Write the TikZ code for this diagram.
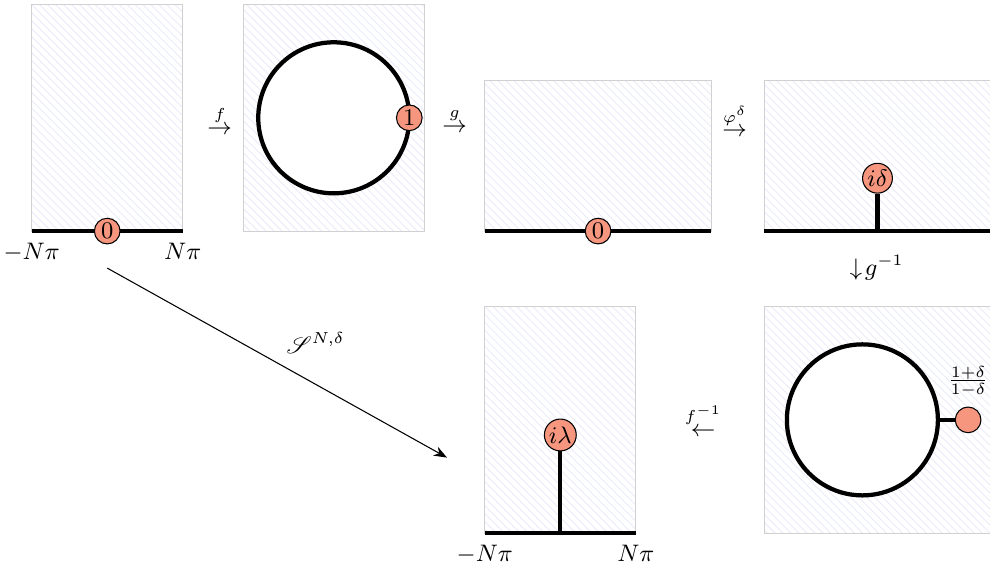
\documentclass[tikz,border=0pt]{standalone}
\usepackage{amsmath}
\usepackage{mathrsfs}
\usepackage{tikz}
\usetikzlibrary{patterns,arrows.meta,positioning}
\definecolor{DotSalmon}{HTML}{F7967E}
\definecolor{HatchLilac}{HTML}{ECEDF8}
\definecolor{FrameGray}{HTML}{D0D0D0}
\tikzset{
  panel/.style={draw=FrameGray,pattern=north west lines,pattern color=HatchLilac},
  cut/.style={line width=1.6pt},
  disk/.style={cut,fill=white},
  pt/.style={circle,draw,fill=DotSalmon,inner sep=0.5pt,minimum size=0.34cm},
  arr/.style={-{Stealth[length=5pt]}}
}

\begin{document}
\begin{tikzpicture}[every node/.style={font=\small}]
  \useasboundingbox (-0.42,-4.49) rectangle (12.69,3.06);
  % strip
  \draw[panel] (0,0) rectangle (2,3);
  \draw[cut] (0,0) -- (2,0);
  \node[pt] (z1) at (1,0) {$0$};
  \node[below=1pt] (l1) at (0,0) {$-N\pi$};
  \node[below=1pt] (r1) at (2,0) {$N\pi$};
  \node (mf) at (2.49,1.47) {$\stackrel{f}{\to}$};

  % disk
  \draw[panel] (2.8,0) rectangle (5.2,3);
  \draw[disk] (4,1.5) circle (1);
  \node[pt] (one) at (5,1.5) {$1$};
  \node (mg) at (5.6,1.47) {$\stackrel{g}{\to}$};

  % half plane
  \draw[panel] (6,0) rectangle (9,2);
  \draw[cut] (6,0) -- (9,0);
  \node[pt] (z2) at (7.5,0) {$0$};
  \node (mphi) at (9.31,1.47) {$\stackrel{\varphi^\delta}{\to}$};

  % slit half plane
  \draw[panel] (9.7,0) rectangle (12.7,2);
  \draw[cut] (9.7,0) -- (12.7,0);
  \node[pt] (id) at (11.2,0.7) {$i\delta$};
  \draw[cut] (11.2,0) -- (id);
  \node (mginv) at (11.19,-0.49) {$\downarrow\! g^{-1}$};

  % slit disk
  \draw[panel] (9.7,-4) rectangle (12.7,-1);
  \draw[disk] (11,-2.5) circle (1);
  \node[pt] (q) at (12.4,-2.5) {};
  \draw[cut] (12,-2.5) -- (q);
  \node[above=0pt of q] (qf) {$\frac{1+\delta}{1-\delta}$};
  \node (mfinv) at (8.89,-2.5) {$\stackrel{f^{-1}}{\leftarrow}$};

  % slit strip
  \draw[panel] (6,-4) rectangle (8,-1);
  \draw[cut] (6,-4) -- (8,-4);
  \node[pt] (il) at (7,-2.7) {$i\lambda$};
  \draw[cut] (7,-4) -- (il);
  \node[below=1pt] (l2) at (6,-4) {$-N\pi$};
  \node[below=1pt] (r2) at (8,-4) {$N\pi$};

  \coordinate (s0) at (1,-0.49);
  \coordinate (s1) at (5.5,-3.0);
  \draw[arr] (s0) -- node[pos=0.5,above right] (ms) {$\mathscr{S}^{N,\delta}$} (s1);
\end{tikzpicture}
\end{document}
